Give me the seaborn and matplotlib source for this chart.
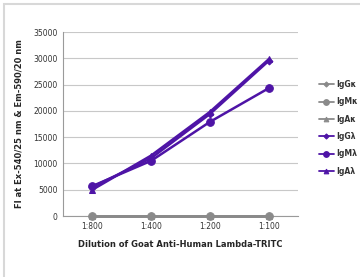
import matplotlib
matplotlib.use("Agg")
import matplotlib.pyplot as plt
import seaborn as sns
import pandas as pd
from matplotlib.patches import Rectangle

dilutions = ["1:800", "1:400", "1:200", "1:100"]
series_names = ["IgGκ", "IgMκ", "IgAκ", "IgGλ", "IgMλ", "IgAλ"]
igg_k = [0, 0, 0, 0]
igm_k = [0, 0, 0, 0]
iga_k = [0, 0, 0, 0]
igg_l = [5500, 11000, 19400, 29500]
igm_l = [5700, 10500, 17900, 24300]
iga_l = [5000, 11500, 19800, 29800]
values = [igg_k, igm_k, iga_k, igg_l, igm_l, iga_l]
yticks = [0, 5000, 10000, 15000, 20000, 25000, 30000, 35000]

markers = ["D", "o", "^", "D", "o", "^"]
msizes = [3.5, 5.5, 4.5, 3.5, 5.5, 4.5]
gray = "#8a8a8a"
purple = "#4e14a6"
colors = [gray, gray, gray, purple, purple, purple]

sns.set_style("white")
plt.rcParams['font.family'] = ['DejaVu Sans']

fig = plt.figure(figsize=(3.6, 2.77), dpi=100)
ax = fig.add_axes([63/360, 1 - 216/277, 235/360, (216 - 32)/277])

for name, vals, mk, ms, c in zip(series_names, values, markers, msizes, colors):
    df = pd.DataFrame({"dil": dilutions, "val": vals})
    sns.lineplot(data=df, x="dil", y="val", ax=ax, color=c, marker=mk,
                 markersize=ms, markeredgecolor=c, linewidth=1.8,
                 label=name, clip_on=False, sort=False, zorder=3)

ax.set_xlim(-0.5, 3.5)
ax.set_ylim(0, 35000)
ax.set_yticks(yticks)
ax.set_yticklabels([str(v) for v in yticks], fontsize=5.5, color="#333333")
ax.set_xticks(range(4))
ax.set_xticklabels(dilutions, fontsize=5.5, color="#333333")
ax.yaxis.grid(True, color="#c8c8c8", linewidth=0.8)
ax.set_axisbelow(True)
for s in ["top", "right"]:
    ax.spines[s].set_visible(False)
for s in ["left", "bottom"]:
    ax.spines[s].set_color("#9a9a9a")
    ax.spines[s].set_linewidth(0.8)
ax.tick_params(axis="both", length=0, pad=4)
ax.set_xticks([-0.5, 0.5, 1.5, 2.5, 3.5], minor=True)
ax.tick_params(axis="x", which="minor", length=3, color="#9a9a9a", width=0.8)

ax.set_xlabel("Dilution of Goat Anti-Human Lambda-TRITC", fontsize=6, fontweight="bold", labelpad=7)
ax.set_ylabel("FI at Ex-540/25 nm & Em-590/20 nm", fontsize=6, fontweight="bold", labelpad=7)

handles, labels = ax.get_legend_handles_labels()
if ax.legend_:
    ax.legend_.remove()
leg = fig.legend(handles, labels, loc="upper left", bbox_to_anchor=(315/360, 1 - 76/277),
                 frameon=False, fontsize=5.5, handlelength=2.0, labelspacing=1.1,
                 handletextpad=0.3, borderpad=0, markerscale=0.75)
for h in leg.legend_handles:
    h.set_linewidth(1.3)
for t in leg.get_texts():
    t.set_fontweight("bold")
    t.set_color("#333333")

fig.patches.append(Rectangle((4/360, -0.1), 1.2, 1.1 - 4/277, transform=fig.transFigure,
                             fill=False, edgecolor="#d8d8d8", linewidth=1.5))

fig.savefig("out.png", dpi=100)
